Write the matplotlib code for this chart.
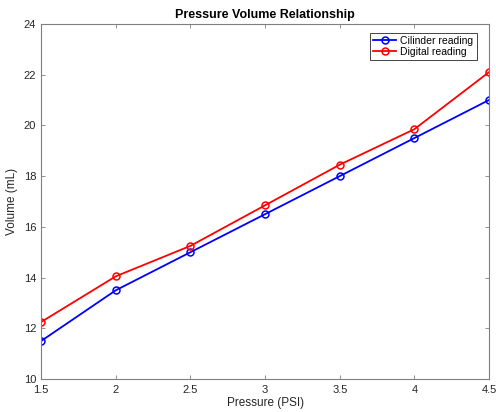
import matplotlib
matplotlib.use("Agg")
import matplotlib.pyplot as plt

pressure = [1.5, 2, 2.5, 3, 3.5, 4, 4.5]
cylinder = [11.5, 13.5, 15, 16.5, 18, 19.5, 21]
digital = [12.25, 14.05, 15.25, 16.85, 18.45, 19.85, 22.1]

plt.rcParams['font.family'] = ['Liberation Sans', 'DejaVu Sans']

fig = plt.figure(figsize=(4.96, 4.12), dpi=100)
ax = fig.add_axes([0.083, 0.080, 0.903, 0.862])

ax.plot(pressure, cylinder, color='#0000ff', marker='o', markersize=5,
        markerfacecolor='none', markeredgewidth=1.1, linewidth=1.3, label='Cilinder reading')
ax.plot(pressure, digital, color='#ff0000', marker='o', markersize=5,
        markerfacecolor='none', markeredgewidth=1.1, linewidth=1.3, label='Digital reading')

ax.set_xlim(1.5, 4.5)
ax.set_ylim(10, 24)
ax.set_xticks(pressure)
ax.set_xticklabels(['1.5', '2', '2.5', '3', '3.5', '4', '4.5'])
ax.set_yticks([10, 12, 14, 16, 18, 20, 22, 24])

gray = '#262626'
for s in ax.spines.values():
    s.set_color('#7f7f7f')
    s.set_linewidth(0.8)
ax.tick_params(direction='in', length=3, width=0.6, colors='#7f7f7f',
               labelcolor=gray, labelsize=8, top=True, right=True)
ax.tick_params(axis='x', pad=4)

ax.set_xlabel('Pressure (PSI)', fontsize=8.5, color=gray, labelpad=2)
ax.set_ylabel('Volume (mL)', fontsize=8.5, color=gray, labelpad=4)
ax.set_title('Pressure Volume Relationship', fontsize=9, fontweight='bold', pad=4)

leg = ax.legend(loc='upper right', fontsize=7.5, fancybox=False, framealpha=1,
                edgecolor='#262626', borderpad=0.3, handlelength=2.2,
                handletextpad=0.4, labelspacing=0.1, borderaxespad=0,
                bbox_to_anchor=(0.972, 0.975))
leg.get_frame().set_linewidth(0.6)

fig.savefig('out.png', dpi=100)
